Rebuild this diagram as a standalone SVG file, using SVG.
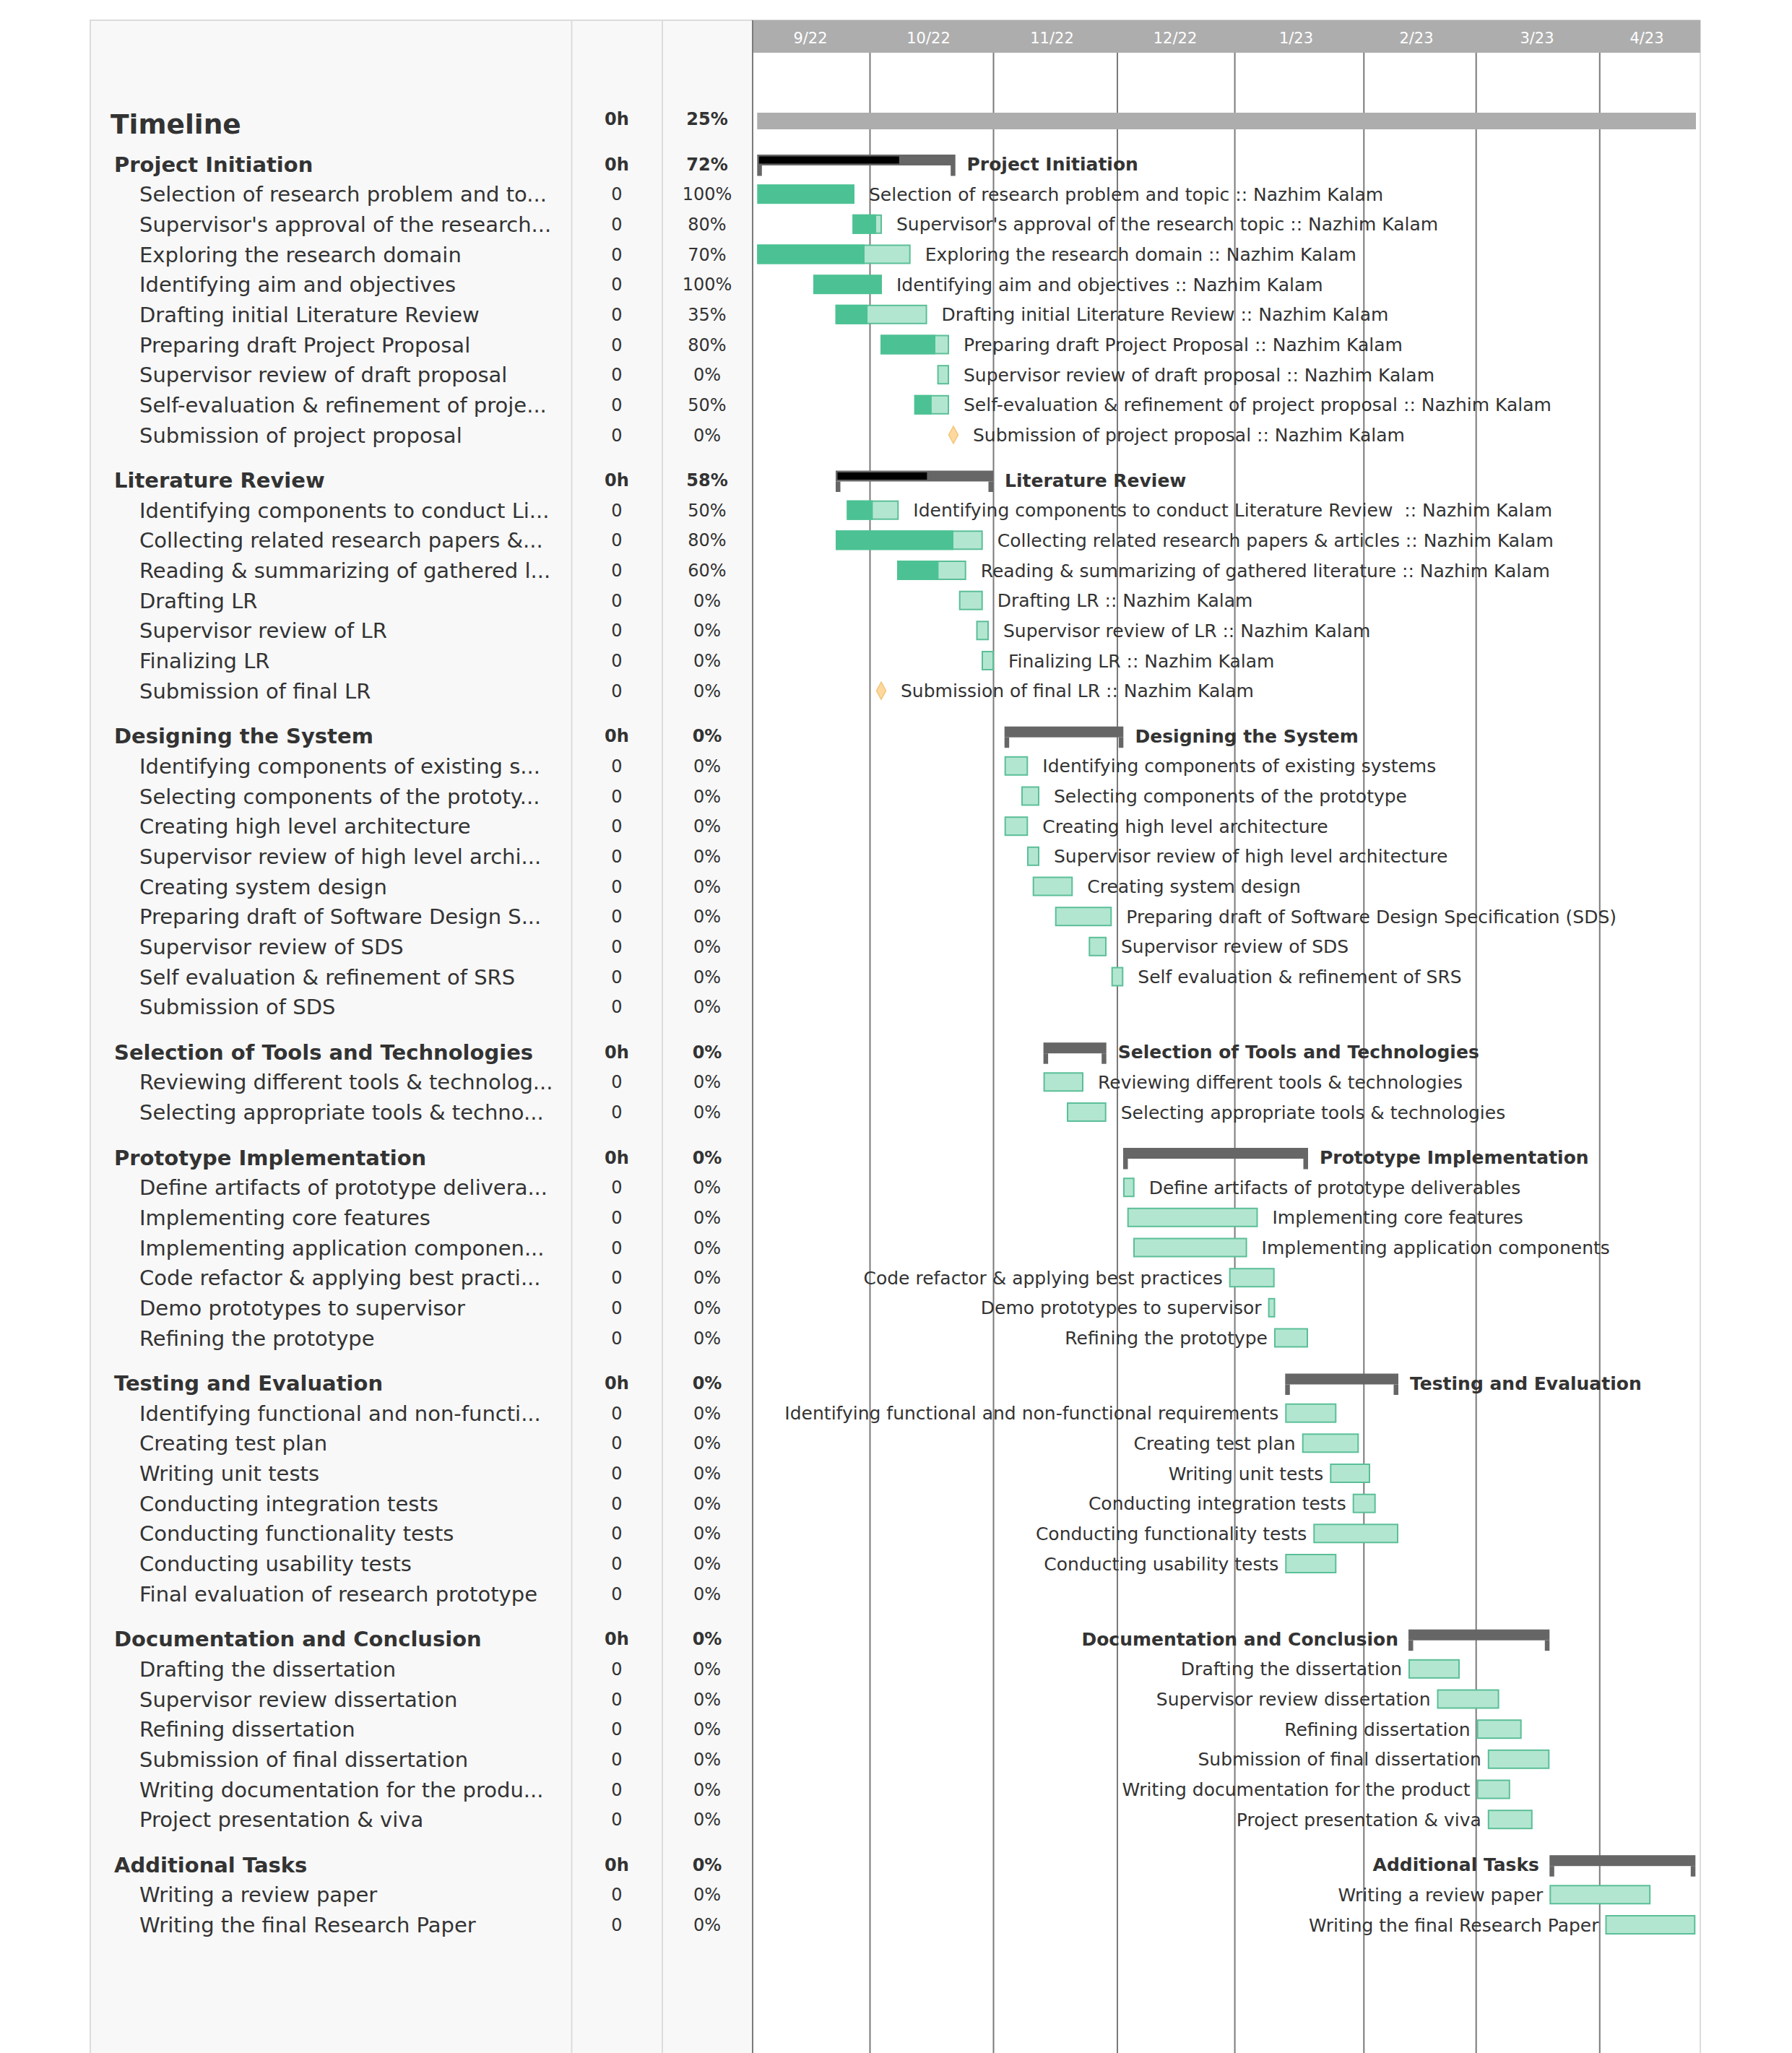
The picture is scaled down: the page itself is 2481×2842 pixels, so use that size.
<svg xmlns="http://www.w3.org/2000/svg" width="2481" height="2842" viewBox="0 0 2481 2842">
<style>
text{font-family:"DejaVu Sans","Liberation Sans",sans-serif;fill:#333}
.lp{font-size:29px}
.lph{font-size:29px;font-weight:bold}
.v{font-size:24px;text-anchor:middle}
.vb{font-size:24px;text-anchor:middle;font-weight:bold}
.cl{font-size:25px}
.clb{font-size:25px;font-weight:bold}
.end{text-anchor:end}
.mh{font-size:21px;fill:#fff;text-anchor:middle}
.bar{fill:#b3e6d1;stroke:#5bbf98;stroke-width:2}
.done{fill:#4cc294}
.grp{fill:#666}
.prog{fill:#000}
.ms{fill:#ffd89e;stroke:#f0c57a;stroke-width:1.5}
.grid{stroke:#7a7a7a;stroke-width:2}
</style>
<rect x="0" y="0" width="2481" height="2842" fill="#fff"/>
<g id="left-panel">
<rect x="125" y="28" width="917" height="2830" fill="#f8f8f8" stroke="#dcdcdc" stroke-width="2"/>
<line x1="791.5" y1="28" x2="791.5" y2="2842" stroke="#dcdcdc" stroke-width="2"/>
<line x1="917" y1="28" x2="917" y2="2842" stroke="#dcdcdc" stroke-width="2"/>
</g>
<g id="chart-frame">
<line x1="1042" y1="28" x2="2354" y2="28" stroke="#dcdcdc" stroke-width="2"/>
<line x1="2354" y1="28" x2="2354" y2="2842" stroke="#dcdcdc" stroke-width="2"/>
<rect x="1042" y="28" width="1312" height="45" fill="#adadad"/>
<text class="mh" x="1122" y="59.5">9/22</text>
<text class="mh" x="1285.5" y="59.5">10/22</text>
<text class="mh" x="1456.5" y="59.5">11/22</text>
<text class="mh" x="1627" y="59.5">12/22</text>
<text class="mh" x="1794.5" y="59.5">1/23</text>
<text class="mh" x="1961" y="59.5">2/23</text>
<text class="mh" x="2128" y="59.5">3/23</text>
<text class="mh" x="2280" y="59.5">4/23</text>
</g>
<g id="grid">
<line class="grid" x1="1042" y1="28" x2="1042" y2="2842"/>
<line class="grid" x1="1204.5" y1="73" x2="1204.5" y2="2842"/>
<line class="grid" x1="1375.5" y1="73" x2="1375.5" y2="2842"/>
<line class="grid" x1="1547" y1="73" x2="1547" y2="2842"/>
<line class="grid" x1="1709.6" y1="73" x2="1709.6" y2="2842"/>
<line class="grid" x1="1888.3" y1="73" x2="1888.3" y2="2842"/>
<line class="grid" x1="2043.7" y1="73" x2="2043.7" y2="2842"/>
<line class="grid" x1="2214.8" y1="73" x2="2214.8" y2="2842"/>
</g>
<g id="timeline">
<text x="153" y="185" style="font-size:37.5px;font-weight:bold">Timeline</text>
<text class="vb" x="854" y="173">0h</text>
<text class="vb" x="979" y="173">25%</text>
<rect x="1048.3" y="156" width="1299.7" height="23" fill="#adadad"/>
</g>

<g id="g-project-initiation">
<text class="lph" x="158" y="237.5">Project Initiation</text><text class="vb" x="854" y="235.5">0h</text><text class="vb" x="979" y="235.5">72%</text>
<rect class="grp" x="1048.3" y="214" width="274.4" height="15"/><rect class="grp" x="1048.3" y="229" width="6.5" height="14.5"/><rect class="grp" x="1316.2" y="229" width="6.5" height="14.5"/>
<rect class="prog" x="1050.8" y="216.5" width="194" height="10"/>
<text class="clb" x="1338.5" y="236">Project Initiation</text>
</g>
<g id="t-pi-1">
<text class="lp" x="193" y="279.2">Selection of research problem and to...</text><text class="v" x="854" y="277.2">0</text><text class="v" x="979" y="277.2">100%</text>
<rect class="done" x="1048.3" y="255.2" width="134.7" height="27"/>
<text class="cl" x="1203" y="277.7">Selection of research problem and topic :: Nazhim Kalam</text>
</g>
<g id="t-pi-2">
<text class="lp" x="193" y="320.8">Supervisor's approval of the research...</text><text class="v" x="854" y="318.8">0</text><text class="v" x="979" y="318.8">80%</text>
<rect class="bar" x="1181.3" y="297.8" width="38.7" height="25"/><rect class="done" x="1180.3" y="296.8" width="32.7" height="27"/>
<text class="cl" x="1241" y="319.3">Supervisor's approval of the research topic :: Nazhim Kalam</text>
</g>
<g id="t-pi-3">
<text class="lp" x="193" y="362.5">Exploring the research domain</text><text class="v" x="854" y="360.5">0</text><text class="v" x="979" y="360.5">70%</text>
<rect class="bar" x="1049.3" y="339.5" width="210.4" height="25"/><rect class="done" x="1048.3" y="338.5" width="148.7" height="27"/>
<text class="cl" x="1280.7" y="361">Exploring the research domain :: Nazhim Kalam</text>
</g>
<g id="t-pi-4">
<text class="lp" x="193" y="404.2">Identifying aim and objectives</text><text class="v" x="854" y="402.2">0</text><text class="v" x="979" y="402.2">100%</text>
<rect class="done" x="1126" y="380.2" width="95" height="27"/>
<text class="cl" x="1241" y="402.7">Identifying aim and objectives :: Nazhim Kalam</text>
</g>
<g id="t-pi-5">
<text class="lp" x="193" y="445.8">Drafting initial Literature Review</text><text class="v" x="854" y="443.8">0</text><text class="v" x="979" y="443.8">35%</text>
<rect class="bar" x="1157.7" y="422.8" width="124.9" height="25"/><rect class="done" x="1156.7" y="421.8" width="44.4" height="27"/>
<text class="cl" x="1303.6" y="444.3">Drafting initial Literature Review :: Nazhim Kalam</text>
</g>
<g id="t-pi-6">
<text class="lp" x="193" y="487.5">Preparing draft Project Proposal</text><text class="v" x="854" y="485.5">0</text><text class="v" x="979" y="485.5">80%</text>
<rect class="bar" x="1220" y="464.5" width="93" height="25"/><rect class="done" x="1219" y="463.5" width="76" height="27"/>
<text class="cl" x="1334" y="486">Preparing draft Project Proposal :: Nazhim Kalam</text>
</g>
<g id="t-pi-7">
<text class="lp" x="193" y="529.2">Supervisor review of draft proposal</text><text class="v" x="854" y="527.2">0</text><text class="v" x="979" y="527.2">0%</text>
<rect class="bar" x="1298.6" y="506.2" width="14.4" height="25"/>
<text class="cl" x="1334" y="527.7">Supervisor review of draft proposal :: Nazhim Kalam</text>
</g>
<g id="t-pi-8">
<text class="lp" x="193" y="570.8">Self-evaluation &amp; refinement of proje...</text><text class="v" x="854" y="568.8">0</text><text class="v" x="979" y="568.8">50%</text>
<rect class="bar" x="1266.8" y="547.8" width="46.2" height="25"/><rect class="done" x="1265.8" y="546.8" width="24.1" height="27"/>
<text class="cl" x="1334" y="569.3">Self-evaluation &amp; refinement of project proposal :: Nazhim Kalam</text>
</g>
<g id="t-pi-9">
<text class="lp" x="193" y="612.5">Submission of project proposal</text><text class="v" x="854" y="610.5">0</text><text class="v" x="979" y="610.5">0%</text>
<polygon class="ms" points="1320,590 1326.5,602 1320,614 1313.5,602"/>
<text class="cl" x="1347" y="611">Submission of project proposal :: Nazhim Kalam</text>
</g>

<g id="g-literature-review">
<text class="lph" x="158" y="675">Literature Review</text><text class="vb" x="854" y="673">0h</text><text class="vb" x="979" y="673">58%</text>
<rect class="grp" x="1157" y="651.5" width="218" height="15"/><rect class="grp" x="1157" y="666.5" width="6.5" height="14.5"/><rect class="grp" x="1368.5" y="666.5" width="6.5" height="14.5"/>
<rect class="prog" x="1159.5" y="654" width="123.9" height="10"/>
<text class="clb" x="1391" y="673.5">Literature Review</text>
</g>
<g id="t-lr-1">
<text class="lp" x="193" y="716.7">Identifying components to conduct Li...</text><text class="v" x="854" y="714.7">0</text><text class="v" x="979" y="714.7">50%</text>
<rect class="bar" x="1173.4" y="693.7" width="69.9" height="25"/><rect class="done" x="1172.4" y="692.7" width="36" height="27"/>
<text class="cl" x="1264.3" y="715.2" xml:space="preserve">Identifying components to conduct Literature Review  :: Nazhim Kalam</text>
</g>
<g id="t-lr-2">
<text class="lp" x="193" y="758.3">Collecting related research papers &amp;...</text><text class="v" x="854" y="756.3">0</text><text class="v" x="979" y="756.3">80%</text>
<rect class="bar" x="1158" y="735.3" width="201.7" height="25"/><rect class="done" x="1157" y="734.3" width="163" height="27"/>
<text class="cl" x="1380.7" y="756.8">Collecting related research papers &amp; articles :: Nazhim Kalam</text>
</g>
<g id="t-lr-3">
<text class="lp" x="193" y="800">Reading &amp; summarizing of gathered l...</text><text class="v" x="854" y="798">0</text><text class="v" x="979" y="798">60%</text>
<rect class="bar" x="1243" y="777" width="93.7" height="25"/><rect class="done" x="1242" y="776" width="57.4" height="27"/>
<text class="cl" x="1357.7" y="798.5">Reading &amp; summarizing of gathered literature :: Nazhim Kalam</text>
</g>
<g id="t-lr-4">
<text class="lp" x="193" y="841.7">Drafting LR</text><text class="v" x="854" y="839.7">0</text><text class="v" x="979" y="839.7">0%</text>
<rect class="bar" x="1328.7" y="818.7" width="31" height="25"/>
<text class="cl" x="1380.7" y="840.2">Drafting LR :: Nazhim Kalam</text>
</g>
<g id="t-lr-5">
<text class="lp" x="193" y="883.3">Supervisor review of LR</text><text class="v" x="854" y="881.3">0</text><text class="v" x="979" y="881.3">0%</text>
<rect class="bar" x="1352.5" y="860.3" width="15.5" height="25"/>
<text class="cl" x="1389" y="881.8">Supervisor review of LR :: Nazhim Kalam</text>
</g>
<g id="t-lr-6">
<text class="lp" x="193" y="925">Finalizing LR</text><text class="v" x="854" y="923">0</text><text class="v" x="979" y="923">0%</text>
<rect class="bar" x="1360" y="902" width="15" height="25"/>
<text class="cl" x="1396" y="923.5">Finalizing LR :: Nazhim Kalam</text>
</g>
<g id="t-lr-7">
<text class="lp" x="193" y="966.7">Submission of final LR</text><text class="v" x="854" y="964.7">0</text><text class="v" x="979" y="964.7">0%</text>
<polygon class="ms" points="1220,944.2 1226.5,956.2 1220,968.2 1213.5,956.2"/>
<text class="cl" x="1247" y="965.2">Submission of final LR :: Nazhim Kalam</text>
</g>

<g id="g-designing-the-system">
<text class="lph" x="158" y="1029.2">Designing the System</text><text class="vb" x="854" y="1027.2">0h</text><text class="vb" x="979" y="1027.2">0%</text>
<rect class="grp" x="1390.7" y="1005.7" width="164.6" height="15"/><rect class="grp" x="1390.7" y="1020.7" width="6.5" height="14.5"/><rect class="grp" x="1548.8" y="1020.7" width="6.5" height="14.5"/>
<text class="clb" x="1571.5" y="1027.7">Designing the System</text>
</g>
<g id="t-ds-1">
<text class="lp" x="193" y="1070.8">Identifying components of existing s...</text><text class="v" x="854" y="1068.8">0</text><text class="v" x="979" y="1068.8">0%</text>
<rect class="bar" x="1391.7" y="1047.8" width="30.6" height="25"/>
<text class="cl" x="1443.3" y="1069.3">Identifying components of existing systems</text>
</g>
<g id="t-ds-2">
<text class="lp" x="193" y="1112.5">Selecting components of the prototy...</text><text class="v" x="854" y="1110.5">0</text><text class="v" x="979" y="1110.5">0%</text>
<rect class="bar" x="1415" y="1089.5" width="23" height="25"/>
<text class="cl" x="1459" y="1111">Selecting components of the prototype</text>
</g>
<g id="t-ds-3">
<text class="lp" x="193" y="1154.2">Creating high level architecture</text><text class="v" x="854" y="1152.2">0</text><text class="v" x="979" y="1152.2">0%</text>
<rect class="bar" x="1391.7" y="1131.2" width="30.6" height="25"/>
<text class="cl" x="1443.3" y="1152.7">Creating high level architecture</text>
</g>
<g id="t-ds-4">
<text class="lp" x="193" y="1195.8">Supervisor review of high level archi...</text><text class="v" x="854" y="1193.8">0</text><text class="v" x="979" y="1193.8">0%</text>
<rect class="bar" x="1423" y="1172.8" width="15" height="25"/>
<text class="cl" x="1459" y="1194.3">Supervisor review of high level architecture</text>
</g>
<g id="t-ds-5">
<text class="lp" x="193" y="1237.5">Creating system design</text><text class="v" x="854" y="1235.5">0</text><text class="v" x="979" y="1235.5">0%</text>
<rect class="bar" x="1430.7" y="1214.5" width="53.6" height="25"/>
<text class="cl" x="1505.3" y="1236">Creating system design</text>
</g>
<g id="t-ds-6">
<text class="lp" x="193" y="1279.2">Preparing draft of Software Design S...</text><text class="v" x="854" y="1277.2">0</text><text class="v" x="979" y="1277.2">0%</text>
<rect class="bar" x="1461.7" y="1256.2" width="76.6" height="25"/>
<text class="cl" x="1559.3" y="1277.7">Preparing draft of Software Design Specification (SDS)</text>
</g>
<g id="t-ds-7">
<text class="lp" x="193" y="1320.8">Supervisor review of SDS</text><text class="v" x="854" y="1318.8">0</text><text class="v" x="979" y="1318.8">0%</text>
<rect class="bar" x="1508.3" y="1297.8" width="22.7" height="25"/>
<text class="cl" x="1552" y="1319.3">Supervisor review of SDS</text>
</g>
<g id="t-ds-8">
<text class="lp" x="193" y="1362.5">Self evaluation &amp; refinement of SRS</text><text class="v" x="854" y="1360.5">0</text><text class="v" x="979" y="1360.5">0%</text>
<rect class="bar" x="1539.7" y="1339.5" width="14.6" height="25"/>
<text class="cl" x="1575.3" y="1361">Self evaluation &amp; refinement of SRS</text>
</g>
<g id="t-ds-9">
<text class="lp" x="193" y="1404.2">Submission of SDS</text><text class="v" x="854" y="1402.2">0</text><text class="v" x="979" y="1402.2">0%</text>
</g>

<g id="g-tools">
<text class="lph" x="158" y="1466.7">Selection of Tools and Technologies</text><text class="vb" x="854" y="1464.7">0h</text><text class="vb" x="979" y="1464.7">0%</text>
<rect class="grp" x="1444.6" y="1443.2" width="87.1" height="15"/><rect class="grp" x="1444.6" y="1458.2" width="6.5" height="14.5"/><rect class="grp" x="1525.2" y="1458.2" width="6.5" height="14.5"/>
<text class="clb" x="1547.7" y="1465.2">Selection of Tools and Technologies</text>
</g>
<g id="t-st-1">
<text class="lp" x="193" y="1508.3">Reviewing different tools &amp; technolog...</text><text class="v" x="854" y="1506.3">0</text><text class="v" x="979" y="1506.3">0%</text>
<rect class="bar" x="1445.6" y="1485.3" width="53.4" height="25"/>
<text class="cl" x="1520" y="1506.8">Reviewing different tools &amp; technologies</text>
</g>
<g id="t-st-2">
<text class="lp" x="193" y="1550">Selecting appropriate tools &amp; techno...</text><text class="v" x="854" y="1548">0</text><text class="v" x="979" y="1548">0%</text>
<rect class="bar" x="1478" y="1527" width="52.7" height="25"/>
<text class="cl" x="1551.7" y="1548.5">Selecting appropriate tools &amp; technologies</text>
</g>

<g id="g-prototype">
<text class="lph" x="158" y="1612.5">Prototype Implementation</text><text class="vb" x="854" y="1610.5">0h</text><text class="vb" x="979" y="1610.5">0%</text>
<rect class="grp" x="1555" y="1589" width="256" height="15"/><rect class="grp" x="1555" y="1604" width="6.5" height="14.5"/><rect class="grp" x="1804.5" y="1604" width="6.5" height="14.5"/>
<text class="clb" x="1827" y="1611">Prototype Implementation</text>
</g>
<g id="t-pr-1">
<text class="lp" x="193" y="1654.2">Define artifacts of prototype delivera...</text><text class="v" x="854" y="1652.2">0</text><text class="v" x="979" y="1652.2">0%</text>
<rect class="bar" x="1556" y="1631.2" width="13.7" height="25"/>
<text class="cl" x="1590.7" y="1652.7">Define artifacts of prototype deliverables</text>
</g>
<g id="t-pr-2">
<text class="lp" x="193" y="1695.8">Implementing core features</text><text class="v" x="854" y="1693.8">0</text><text class="v" x="979" y="1693.8">0%</text>
<rect class="bar" x="1561.7" y="1672.8" width="178.8" height="25"/>
<text class="cl" x="1761.5" y="1694.3">Implementing core features</text>
</g>
<g id="t-pr-3">
<text class="lp" x="193" y="1737.5">Implementing application componen...</text><text class="v" x="854" y="1735.5">0</text><text class="v" x="979" y="1735.5">0%</text>
<rect class="bar" x="1570" y="1714.5" width="155.6" height="25"/>
<text class="cl" x="1746.6" y="1736">Implementing application components</text>
</g>
<g id="t-pr-4">
<text class="lp" x="193" y="1779.2">Code refactor &amp; applying best practi...</text><text class="v" x="854" y="1777.2">0</text><text class="v" x="979" y="1777.2">0%</text>
<rect class="bar" x="1702.7" y="1756.2" width="61" height="25"/>
<text class="cl end" x="1692.7" y="1777.7">Code refactor &amp; applying best practices</text>
</g>
<g id="t-pr-5">
<text class="lp" x="193" y="1820.8">Demo prototypes to supervisor</text><text class="v" x="854" y="1818.8">0</text><text class="v" x="979" y="1818.8">0%</text>
<rect class="bar" x="1756.6" y="1797.8" width="7.9" height="25"/>
<text class="cl end" x="1746.6" y="1819.3">Demo prototypes to supervisor</text>
</g>
<g id="t-pr-6">
<text class="lp" x="193" y="1862.5">Refining the prototype</text><text class="v" x="854" y="1860.5">0</text><text class="v" x="979" y="1860.5">0%</text>
<rect class="bar" x="1765" y="1839.5" width="45" height="25"/>
<text class="cl end" x="1755" y="1861">Refining the prototype</text>
</g>

<g id="g-testing">
<text class="lph" x="158" y="1925">Testing and Evaluation</text><text class="vb" x="854" y="1923">0h</text><text class="vb" x="979" y="1923">0%</text>
<rect class="grp" x="1779.3" y="1901.5" width="156.7" height="15"/><rect class="grp" x="1779.3" y="1916.5" width="6.5" height="14.5"/><rect class="grp" x="1929.5" y="1916.5" width="6.5" height="14.5"/>
<text class="clb" x="1952" y="1923.5">Testing and Evaluation</text>
</g>
<g id="t-te-1">
<text class="lp" x="193" y="1966.7">Identifying functional and non-functi...</text><text class="v" x="854" y="1964.7">0</text><text class="v" x="979" y="1964.7">0%</text>
<rect class="bar" x="1780.3" y="1943.7" width="69" height="25"/>
<text class="cl end" x="1770.3" y="1965.2">Identifying functional and non-functional requirements</text>
</g>
<g id="t-te-2">
<text class="lp" x="193" y="2008.3">Creating test plan</text><text class="v" x="854" y="2006.3">0</text><text class="v" x="979" y="2006.3">0%</text>
<rect class="bar" x="1803.7" y="1985.3" width="76.6" height="25"/>
<text class="cl end" x="1793.7" y="2006.8">Creating test plan</text>
</g>
<g id="t-te-3">
<text class="lp" x="193" y="2050">Writing unit tests</text><text class="v" x="854" y="2048">0</text><text class="v" x="979" y="2048">0%</text>
<rect class="bar" x="1842.3" y="2027" width="53.7" height="25"/>
<text class="cl end" x="1832.3" y="2048.5">Writing unit tests</text>
</g>
<g id="t-te-4">
<text class="lp" x="193" y="2091.7">Conducting integration tests</text><text class="v" x="854" y="2089.7">0</text><text class="v" x="979" y="2089.7">0%</text>
<rect class="bar" x="1873.7" y="2068.7" width="30" height="25"/>
<text class="cl end" x="1863.7" y="2090.2">Conducting integration tests</text>
</g>
<g id="t-te-5">
<text class="lp" x="193" y="2133.3">Conducting functionality tests</text><text class="v" x="854" y="2131.3">0</text><text class="v" x="979" y="2131.3">0%</text>
<rect class="bar" x="1819.3" y="2110.3" width="115.7" height="25"/>
<text class="cl end" x="1809.3" y="2131.8">Conducting functionality tests</text>
</g>
<g id="t-te-6">
<text class="lp" x="193" y="2175">Conducting usability tests</text><text class="v" x="854" y="2173">0</text><text class="v" x="979" y="2173">0%</text>
<rect class="bar" x="1780.3" y="2152" width="69" height="25"/>
<text class="cl end" x="1770.3" y="2173.5">Conducting usability tests</text>
</g>
<g id="t-te-7">
<text class="lp" x="193" y="2216.7">Final evaluation of research prototype</text><text class="v" x="854" y="2214.7">0</text><text class="v" x="979" y="2214.7">0%</text>
</g>

<g id="g-documentation">
<text class="lph" x="158" y="2279.2">Documentation and Conclusion</text><text class="vb" x="854" y="2277.2">0h</text><text class="vb" x="979" y="2277.2">0%</text>
<rect class="grp" x="1950" y="2255.7" width="195.3" height="15"/><rect class="grp" x="1950" y="2270.7" width="6.5" height="14.5"/><rect class="grp" x="2138.8" y="2270.7" width="6.5" height="14.5"/>
<text class="clb end" x="1936" y="2277.7">Documentation and Conclusion</text>
</g>
<g id="t-dc-1">
<text class="lp" x="193" y="2320.8">Drafting the dissertation</text><text class="v" x="854" y="2318.8">0</text><text class="v" x="979" y="2318.8">0%</text>
<rect class="bar" x="1951" y="2297.8" width="69" height="25"/>
<text class="cl end" x="1941" y="2319.3">Drafting the dissertation</text>
</g>
<g id="t-dc-2">
<text class="lp" x="193" y="2362.5">Supervisor review dissertation</text><text class="v" x="854" y="2360.5">0</text><text class="v" x="979" y="2360.5">0%</text>
<rect class="bar" x="1990.5" y="2339.5" width="84.1" height="25"/>
<text class="cl end" x="1980.5" y="2361">Supervisor review dissertation</text>
</g>
<g id="t-dc-3">
<text class="lp" x="193" y="2404.2">Refining dissertation</text><text class="v" x="854" y="2402.2">0</text><text class="v" x="979" y="2402.2">0%</text>
<rect class="bar" x="2045.6" y="2381.2" width="60.1" height="25"/>
<text class="cl end" x="2035.6" y="2402.7">Refining dissertation</text>
</g>
<g id="t-dc-4">
<text class="lp" x="193" y="2445.8">Submission of final dissertation</text><text class="v" x="854" y="2443.8">0</text><text class="v" x="979" y="2443.8">0%</text>
<rect class="bar" x="2060.8" y="2422.8" width="83.5" height="25"/>
<text class="cl end" x="2050.8" y="2444.3">Submission of final dissertation</text>
</g>
<g id="t-dc-5">
<text class="lp" x="193" y="2487.5">Writing documentation for the produ...</text><text class="v" x="854" y="2485.5">0</text><text class="v" x="979" y="2485.5">0%</text>
<rect class="bar" x="2045.6" y="2464.5" width="44.2" height="25"/>
<text class="cl end" x="2035.6" y="2486">Writing documentation for the product</text>
</g>
<g id="t-dc-6">
<text class="lp" x="193" y="2529.2">Project presentation &amp; viva</text><text class="v" x="854" y="2527.2">0</text><text class="v" x="979" y="2527.2">0%</text>
<rect class="bar" x="2060.8" y="2506.2" width="60" height="25"/>
<text class="cl end" x="2050.8" y="2527.7">Project presentation &amp; viva</text>
</g>

<g id="g-additional">
<text class="lph" x="158" y="2591.7">Additional Tasks</text><text class="vb" x="854" y="2589.7">0h</text><text class="vb" x="979" y="2589.7">0%</text>
<rect class="grp" x="2145.3" y="2568.2" width="202" height="15"/><rect class="grp" x="2145.3" y="2583.2" width="6.5" height="14.5"/><rect class="grp" x="2340.8" y="2583.2" width="6.5" height="14.5"/>
<text class="clb end" x="2131" y="2590.2">Additional Tasks</text>
</g>
<g id="t-at-1">
<text class="lp" x="193" y="2633.3">Writing a review paper</text><text class="v" x="854" y="2631.3">0</text><text class="v" x="979" y="2631.3">0%</text>
<rect class="bar" x="2146.3" y="2610.3" width="137.9" height="25"/>
<text class="cl end" x="2136.3" y="2631.8">Writing a review paper</text>
</g>
<g id="t-at-2">
<text class="lp" x="193" y="2675">Writing the final Research Paper</text><text class="v" x="854" y="2673">0</text><text class="v" x="979" y="2673">0%</text>
<rect class="bar" x="2223.5" y="2652" width="122.8" height="25"/>
<text class="cl end" x="2213.5" y="2673.5">Writing the final Research Paper</text>
</g>
</svg>
